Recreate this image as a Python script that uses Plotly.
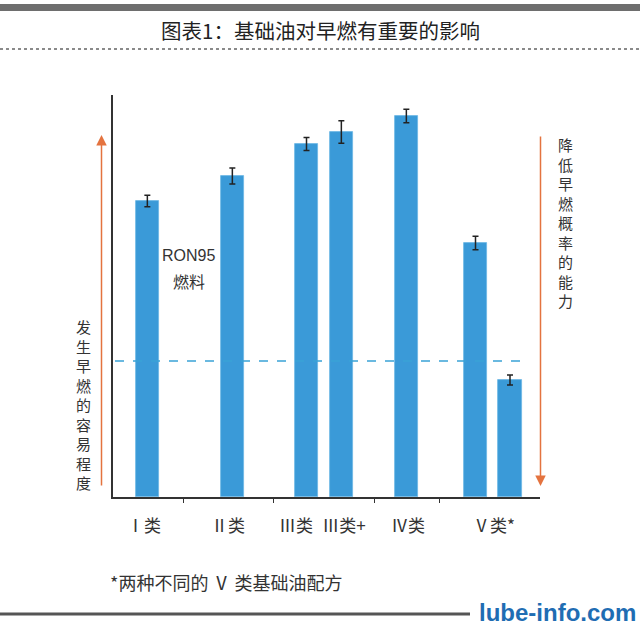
import plotly.graph_objects as go

# ---- data ----
categories = ["Ⅰ类", "Ⅱ类", "Ⅲ类", "Ⅲ类+", "Ⅳ类", "Ⅴ类 (a)", "Ⅴ类 (b)"]
values = [74.0, 80.25, 88.25, 91.25, 95.25, 63.5, 29.25]
errors = [1.45, 2.0, 1.6, 2.8, 1.7, 1.7, 1.25]
group_labels = ["Ⅰ类", "Ⅱ类", "Ⅲ类", "Ⅲ类+", "Ⅳ类", "Ⅴ类*"]
ron95_level = 34.0

title_text = "图表1：基础油对早燃有重要的影响"
left_text = "发生早燃的容易程度"
right_text = "降低早燃概率的能力"
footnote = "*两种不同的 Ⅴ 类基础油配方"
watermark = "lube-info.com"

# ---- layout (positions on the x axis, plot geometry) ----
bar_pos = [3.435, 11.935, 19.35, 22.835, 29.335, 36.25, 39.7]
bar_width = 2.33
label_pos = [3.1, 11.5, 18.3, 23.1, 29.5, 38.1]
separators = [7.03, 16.0, 26.1, 32.63]
X_RANGE = [0, 42.7]
Y_RANGE = [0, 100.5]

W, H = 640, 627
L, T, PW, PH = 113, 95, 427, 402

def px(x):
    return (x - L) / PW

def py(y):
    return (T + PH - y) / PH

CJK = "Noto Sans CJK SC, Noto Sans, sans-serif"
TXT = "#333333"
BLUE = "#3a9ad8"
ORANGE = "#e4733f"

fig = go.Figure()
fig.add_trace(go.Bar(
    x=bar_pos, y=values, width=bar_width,
    marker=dict(color=BLUE, line=dict(color="#6cb6e4", width=0.8)),
    error_y=dict(type="data", array=errors, color="#222222", thickness=1.5, width=3),
    hovertext=categories, hoverinfo="text+y",
    xaxis="x", yaxis="y",
))
# invisible trace for separator-tick axis
fig.add_trace(go.Scatter(x=[X_RANGE[0]], y=[0], xaxis="x2", yaxis="y",
                         mode="markers", marker=dict(opacity=0), hoverinfo="skip",
                         showlegend=False))

fig.update_layout(
    width=W, height=H,
    margin=dict(l=L, r=W - L - PW, t=T, b=H - T - PH),
    paper_bgcolor="white", plot_bgcolor="white",
    showlegend=False,
    bargap=0,
    xaxis=dict(range=X_RANGE, showgrid=False, zeroline=False,
               showline=True, linecolor="#333333", linewidth=1.5,
               tickvals=label_pos, ticktext=group_labels, ticks="",
               ticklabelstandoff=13,
               tickfont=dict(family=CJK, size=17, color=TXT)),
    xaxis2=dict(range=X_RANGE, overlaying="x", showgrid=False, zeroline=False,
                tickvals=separators, ticks="outside", ticklen=5, tickwidth=1.2,
                tickcolor="#333333", showticklabels=False, side="bottom"),
    yaxis=dict(range=Y_RANGE, showgrid=False, zeroline=False,
               showline=True, linecolor="#333333", linewidth=1.5,
               ticks="", showticklabels=False),
)

shapes = []
# RON95 reference dashed line
shapes.append(dict(type="line", xref="x", yref="y", x0=0.2, x1=41.0,
                   y0=ron95_level, y1=ron95_level,
                   line=dict(color="#3aa3d6", width=1.6, dash="dash")))
# top band
shapes.append(dict(type="rect", xref="paper", yref="paper", x0=px(0), x1=px(640),
                   y0=py(11), y1=py(4), fillcolor="#6e6e6e", line=dict(width=0)))
# dotted line under title
shapes.append(dict(type="line", xref="paper", yref="paper", x0=px(0), x1=px(640),
                   y0=py(49), y1=py(49), line=dict(color="#8a8a8a", width=2, dash="dot")))
# bottom line
shapes.append(dict(type="line", xref="paper", yref="paper", x0=px(0), x1=px(470),
                   y0=py(614), y1=py(614), line=dict(color="#555555", width=3)))
fig.update_layout(shapes=shapes)

ann = []
ann.append(dict(text=title_text, xref="paper", yref="paper", x=px(320), y=py(30),
                showarrow=False, font=dict(family=CJK, size=20.5, color="#222222"),
                xanchor="center", yanchor="middle"))
ann.append(dict(text="RON95", xref="paper", yref="paper", x=px(188), y=py(255),
                showarrow=False, font=dict(family="Liberation Sans, Arial", size=16, color=TXT),
                xanchor="center", yanchor="middle"))
ann.append(dict(text="燃料", xref="paper", yref="paper", x=px(189), y=py(281),
                showarrow=False, font=dict(family=CJK, size=16, color=TXT),
                xanchor="center", yanchor="middle"))
ann.append(dict(text=footnote, xref="paper", yref="paper", x=px(108), y=py(582),
                showarrow=False, font=dict(family=CJK, size=18, color=TXT),
                xanchor="left", yanchor="middle"))
ann.append(dict(text="<b>" + watermark + "</b>", xref="paper", yref="paper", x=px(638), y=py(612),
                showarrow=False, font=dict(family="Liberation Sans, Arial", size=24, color="#1f6db3"),
                xanchor="right", yanchor="middle"))
# vertical texts (one character per line)
ann.append(dict(text="<br>".join(left_text), xref="paper", yref="paper",
                x=px(83), y=py(404), showarrow=False,
                font=dict(family=CJK, size=15, color=TXT),
                xanchor="center", yanchor="middle", align="center"))
ann.append(dict(text="<br>".join(right_text), xref="paper", yref="paper",
                x=px(565), y=py(222), showarrow=False,
                font=dict(family=CJK, size=15, color=TXT),
                xanchor="center", yanchor="middle", align="center"))
# arrows
ann.append(dict(xref="paper", yref="paper", x=px(101.5), y=py(135), ax=0, ay=352,
                axref="pixel", ayref="pixel", text="", showarrow=True,
                arrowhead=2, arrowsize=1.4, arrowwidth=1.5, arrowcolor=ORANGE))
ann.append(dict(xref="paper", yref="paper", x=px(540.5), y=py(486), ax=0, ay=-351,
                axref="pixel", ayref="pixel", text="", showarrow=True,
                arrowhead=2, arrowsize=1.4, arrowwidth=1.5, arrowcolor=ORANGE))
fig.update_layout(annotations=ann)

fig.write_html("out.html", config={"displayModeBar": False},
               post_script="document.body.style.margin='0';")
